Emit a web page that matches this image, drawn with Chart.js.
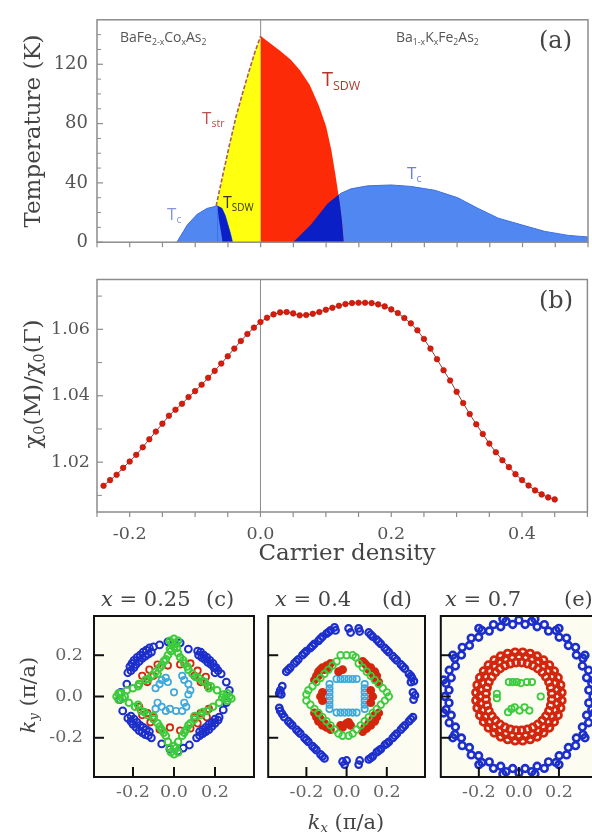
<!DOCTYPE html>
<html><head><meta charset="utf-8">
<script src="https://cdn.jsdelivr.net/npm/chart.js@4.4.1/dist/chart.umd.min.js"></script>
<style>
html,body{margin:0;padding:0;background:#fff;overflow:hidden;}
#wrap{position:relative;width:592px;height:840px;overflow:hidden;}
canvas{position:absolute;}
.t{position:absolute;white-space:nowrap;line-height:1;}
.serif{font-family:'DejaVu Serif',serif;color:#444;}
.sans{font-family:'Open Sans','Liberation Sans',sans-serif;}
sub{font-size:0.62em;vertical-align:-0.3em;line-height:0;}
.rot{transform:translate(-50%,-50%) rotate(-90deg);}
.ctr{transform:translate(-50%,-50%);}
</style></head><body><div id="wrap">
<canvas id="ca" width="592" height="262" style="left:0;top:0;width:592px;height:262px"></canvas>
<canvas id="cb" width="592" height="300" style="left:0;top:262px;width:592px;height:300px"></canvas>
<canvas id="cc" width="262" height="265" style="left:0;top:575px;width:262px;height:265px"></canvas>
<canvas id="cd" width="172" height="265" style="left:262px;top:575px;width:172px;height:265px"></canvas>
<canvas id="ce" width="172" height="265" style="left:434px;top:575px;width:172px;height:265px"></canvas>

<div class="t sans" style="left:120px;top:29.5px;font-size:14px;color:#555">BaFe<sub>2-x</sub>Co<sub>x</sub>As<sub>2</sub></div>
<div class="t sans" style="left:396px;top:29.5px;font-size:14px;color:#555">Ba<sub>1-x</sub>K<sub>x</sub>Fe<sub>2</sub>As<sub>2</sub></div>
<div class="t serif" style="left:539px;top:28px;font-size:24px">(a)</div>
<div class="t serif" style="left:539px;top:288px;font-size:24px">(b)</div>
<div class="t sans" style="left:202px;top:109px;font-size:17px;color:#c0504d">T<sub>str</sub></div>
<div class="t sans" style="left:223px;top:194px;font-size:16px;color:#333">T<sub>SDW</sub></div>
<div class="t sans" style="left:167px;top:205px;font-size:17px;color:#8595d5">T<sub>c</sub></div>
<div class="t sans" style="left:322px;top:68.5px;font-size:20px;color:#b5342a">T<sub>SDW</sub></div>
<div class="t sans" style="left:407px;top:164px;font-size:17px;color:#6f7fd8">T<sub>c</sub></div>

<div class="t serif rot" style="left:32px;top:131px;font-size:23px">Temperature (K)</div>
<div class="t serif rot" style="left:32px;top:384px;font-size:23px">&chi;<sub>0</sub>(M)/&chi;<sub>0</sub>(&Gamma;)</div>
<div class="t serif ctr" style="left:347px;top:552px;font-size:23px">Carrier density</div>

<div class="t serif" style="left:101px;top:589px;font-size:21px"><i>x</i> = 0.25</div>
<div class="t serif" style="left:206px;top:589px;font-size:21px">(c)</div>
<div class="t serif" style="left:275px;top:589px;font-size:21px"><i>x</i> = 0.4</div>
<div class="t serif" style="left:382px;top:589px;font-size:21px">(d)</div>
<div class="t serif" style="left:445px;top:589px;font-size:21px"><i>x</i> = 0.7</div>
<div class="t serif" style="left:564px;top:589px;font-size:21px">(e)</div>
<div class="t serif rot" style="left:28px;top:695px;font-size:21px"><i>k</i><sub><i>y</i></sub> (&pi;/a)</div>
<div class="t serif ctr" style="left:346px;top:822px;font-size:21px"><i>k</i><sub><i>x</i></sub> (&pi;/a)</div>
</div>
<script>
// ---------- Panel (a): phase diagram ----------
const tStrX = [-0.068,-0.058,-0.048,-0.038,-0.028,-0.018,-0.009,0];
const tStrT = [24.5,45,65,84,100,115,128,139];
const sdwKX = [0,0.015,0.03,0.046,0.06,0.075,0.089,0.1,0.108,0.114,0.1195,0.124,0.127];
const sdwKT = [139,134,129,123,116,106,92,78,62,46,30,15,0];
const tcCoX = [-0.128,-0.112,-0.097,-0.082,-0.066,-0.059,-0.054,-0.05,-0.046,-0.043];
const tcCoT = [0,11.7,18.8,22.8,24.5,22.8,17.8,11.7,5.6,0];
const coMixX = [-0.066,-0.059,-0.054,-0.05,-0.046,-0.043];
const coMixT = [24.5,22.8,17.8,11.7,5.6,0];
const coEdgeX = [-0.066,-0.064,-0.061,-0.058];
const coEdgeT = [24.5,16,8,0];
const tcKX = [0.0495,0.0766,0.102,0.1226,0.138,0.1635,0.199,0.23,0.266,0.301,0.332,0.363,0.3985,0.434,0.47,0.5];
const tcKT = [0,11.7,25.9,33,36,38,38.6,37.6,35,30,22.8,16.2,11.7,7.3,4.6,3.5];
const kMixX = [0.0495,0.0766,0.102,0.119,0.1215,0.124,0.127];
const kMixT = [0,11.7,25.9,32,24,15,0];
const tempTicks = [0,40,80,120];
const tempMinor = [10,20,30,50,60,70,90,100,110,130,140];
const carrierTicks = [-0.2,0,0.2,0.4];
const carrierMinor = [-0.25,-0.15,-0.1,-0.05,0.05,0.1,0.15,0.25,0.3,0.35,0.45,0.5];

// ---------- Panel (b): chi0(M)/chi0(Gamma) ----------
const chiX = [-0.24,-0.23,-0.22,-0.21,-0.20,-0.19,-0.18,-0.17,-0.16,-0.15,-0.14,-0.13,-0.12,-0.11,-0.10,-0.09,-0.08,-0.07,-0.06,-0.05,-0.04,-0.03,-0.02,-0.01,0.00,0.01,0.02,0.03,0.04,0.05,0.06,0.07,0.08,0.09,0.10,0.11,0.12,0.13,0.14,0.15,0.16,0.17,0.18,0.19,0.20,0.21,0.22,0.23,0.24,0.25,0.26,0.27,0.28,0.29,0.30,0.31,0.32,0.33,0.34,0.35,0.36,0.37,0.38,0.39,0.40,0.41,0.42,0.43,0.44,0.45];
const chiY = [1.0129,1.0146,1.0162,1.0183,1.0202,1.0222,1.0245,1.0269,1.0292,1.0316,1.0340,1.0358,1.0376,1.0396,1.0414,1.0433,1.0454,1.0475,1.0497,1.0519,1.0542,1.0565,1.0586,1.0605,1.0622,1.0635,1.0645,1.0651,1.0652,1.0648,1.0642,1.0643,1.0647,1.0652,1.0659,1.0665,1.0671,1.0676,1.0679,1.0680,1.0680,1.0679,1.0675,1.0669,1.0660,1.0649,1.0634,1.0618,1.0597,1.0571,1.0542,1.0510,1.0477,1.0446,1.0412,1.0378,1.0345,1.0314,1.0285,1.0256,1.0230,1.0206,1.0185,1.0164,1.0146,1.0130,1.0115,1.0103,1.0094,1.0088];
const chiTicks = [1.02,1.04,1.06];
const chiMinor = [1.01,1.03,1.05,1.07];

// ---------- Panels (c)-(e): Fermi surfaces (kx, ky in pi/a) ----------
const kTicks = [-0.2,0,0.2];
const cBlue = [[-0.12,0.235],[-0.135,0.225],[-0.15,0.215],[-0.165,0.2],[-0.18,0.19],[-0.195,0.175],[-0.205,0.16],[-0.215,0.145],[-0.21,0.125],[-0.225,0.115],[-0.23,0.06],[-0.26,0.02],[-0.265,-0.015],[-0.25,-0.07],[-0.225,-0.105],[-0.21,-0.12],[-0.2,-0.135],[-0.185,-0.15],[-0.17,-0.165],[-0.155,-0.175],[-0.14,-0.185],[-0.125,-0.19],[-0.11,-0.2],[-0.06,-0.23],[-0.02,-0.255],[0.02,-0.265],[0.045,-0.25],[0.075,-0.235],[0.11,-0.2],[0.125,-0.19],[0.14,-0.18],[0.155,-0.17],[0.17,-0.16],[0.185,-0.145],[0.2,-0.13],[0.215,-0.115],[0.22,-0.1],[0.24,-0.065],[0.255,-0.03],[0.27,0.03],[0.255,0.07],[0.23,0.11],[0.215,0.125],[0.205,0.14],[0.19,0.16],[0.175,0.175],[0.16,0.19],[0.145,0.2],[0.13,0.215],[0.115,0.22],[0.07,0.23],[0.03,0.26],[-0.03,0.265],[-0.07,0.25],[-0.1,0.24],
[-0.11,0.215],[-0.125,0.205],[-0.14,0.195],[-0.155,0.185],[-0.17,0.17],[-0.185,0.155],[-0.195,0.14],[0.12,0.2],[0.135,0.19],[0.15,0.18],[0.165,0.165],[0.18,0.155],[0.195,0.14],[0.2,0.115],[0.125,-0.17],[0.14,-0.16],[0.155,-0.15],[0.17,-0.135],[0.185,-0.125],[0.2,-0.11],[-0.12,-0.17],[-0.135,-0.16],[-0.15,-0.15],[-0.165,-0.14],[-0.18,-0.125],[-0.195,-0.11],[-0.21,-0.095]];
const cRed = [[-0.12,0.13],[-0.08,0.155],[-0.03,0.15],[0.03,0.155],[0.08,0.16],[0.115,0.125],[0.155,0.095],[0.165,0.05],[0.17,-0.06],[0.16,-0.1],[0.115,-0.13],[0.08,-0.155],[0.03,-0.165],[-0.02,-0.15],[-0.07,-0.16],[-0.115,-0.125],[-0.155,-0.09],[-0.17,-0.05],[-0.17,0.06],[-0.155,0.1],[-0.1,0.1],[-0.13,0.07],[0.1,0.1],[0.13,0.07],[0.1,-0.1],[0.13,-0.08],[-0.1,-0.1],[-0.13,-0.08]];
const cGreen = [[0,0.28],[-0.01,0.26],[0.01,0.255],[0,0.24],[-0.015,0.22],[0.02,0.21],[0.03,0.19],[0.05,0.16],[0.07,0.13],[0.09,0.11],[0.12,0.09],[0.15,0.07],[0.18,0.05],[0.21,0.03],[0.24,0.01],[0.27,0],[0.28,-0.01],[0.25,-0.01],[0.22,-0.03],[0.19,-0.05],[0.16,-0.07],[0.13,-0.09],[0.1,-0.11],[0.08,-0.13],[0.06,-0.16],[0.04,-0.19],[0.02,-0.22],[0.01,-0.25],[0,-0.28],[-0.02,-0.25],[-0.03,-0.22],[-0.04,-0.19],[-0.06,-0.16],[-0.08,-0.13],[-0.1,-0.11],[-0.13,-0.09],[-0.16,-0.07],[-0.19,-0.05],[-0.22,-0.03],[-0.25,-0.01],[-0.28,0],[-0.26,0.015],[-0.23,0.03],[-0.2,0.04],[-0.17,0.06],[-0.14,0.08],[-0.11,0.1],[-0.09,0.12],[-0.07,0.14],[-0.05,0.17],[-0.03,0.2],[-0.02,0.23],
[0.02,0.27],[-0.02,0.27],[0.015,0.235],[0.26,0.015],[0.26,-0.02],[0.235,-0.005],[0.02,-0.27],[-0.015,-0.27],[0.0,-0.24],[-0.27,0.015],[-0.27,-0.015],[-0.24,0.0],[0.045,0.175],[0.065,0.145],[0.105,0.095],[0.14,0.075],[0.17,0.04],[0.14,-0.075],[0.1,-0.095],[0.07,-0.14],[0.05,-0.175],[-0.05,-0.175],[-0.07,-0.145],[-0.1,-0.095],[-0.145,-0.075],[-0.175,-0.04],[-0.175,0.05],[-0.125,0.085],[-0.08,0.11],[-0.06,0.15],[-0.04,0.18]];
const cCyan = [[-0.09,0.04],[-0.07,0.06],[-0.06,0.08],[-0.04,0.09],[-0.03,0.07],[0.04,0.1],[0.05,0.08],[0.07,0.06],[0.08,0.03],[0.07,0.01],[0.05,-0.03],[0.06,-0.05],[0.04,-0.07],[0.01,-0.07],[-0.02,-0.06],[-0.04,-0.07],[-0.06,-0.05],[-0.08,-0.03],[-0.09,-0.06],[0.0,0.02]];

const dBlue = [[-0.30,0.12],[-0.28,0.14],[-0.26,0.16],[-0.24,0.18],[-0.22,0.2],[-0.2,0.22],[-0.18,0.235],[-0.16,0.255],[-0.14,0.27],[-0.12,0.29],[-0.10,0.305],[-0.08,0.32],[-0.06,0.335],[-0.055,0.32],[0.01,0.33],[0.02,0.31],[0.06,0.33],[0.065,0.315],[0.11,0.31],[0.13,0.29],[0.15,0.275],[0.17,0.255],[0.19,0.235],[0.21,0.215],[0.23,0.195],[0.25,0.175],[0.27,0.155],[0.29,0.135],[0.31,0.11],[0.325,0.09],[0.335,0.075],[0.32,0.07],[0.33,0.02],[0.34,0.005],[0.333,-0.015],[0.33,-0.1],[0.31,-0.12],[0.29,-0.14],[0.27,-0.16],[0.25,-0.18],[0.23,-0.2],[0.21,-0.22],[0.19,-0.235],[0.17,-0.255],[0.15,-0.27],[0.13,-0.29],[0.11,-0.305],[0.06,-0.33],[0.065,-0.31],[0.0,-0.31],[-0.01,-0.33],[-0.02,-0.315],[-0.11,-0.3],[-0.13,-0.28],[-0.15,-0.26],[-0.17,-0.24],[-0.19,-0.22],[-0.21,-0.2],[-0.23,-0.18],[-0.25,-0.16],[-0.27,-0.14],[-0.29,-0.12],[-0.31,-0.1],[-0.33,-0.07],[-0.335,-0.055],[-0.33,0.03],[-0.325,0.01],[-0.32,0.05],[-0.335,0.015],
[-0.29,0.13],[-0.25,0.17],[-0.21,0.21],[-0.17,0.245],[-0.13,0.28],[-0.09,0.312],[0.12,0.3],[0.16,0.265],[0.2,0.225],[0.24,0.185],[0.28,0.145],[0.32,0.1],[0.32,-0.11],[0.28,-0.15],[0.24,-0.19],[0.2,-0.228],[0.16,-0.262],[0.12,-0.298],[-0.12,-0.29],[-0.16,-0.25],[-0.2,-0.21],[-0.24,-0.17],[-0.28,-0.13],[-0.32,-0.085]];
const dRed = [[-0.16,0.08],[-0.15,0.1],[-0.14,0.12],[-0.12,0.14],[-0.1,0.15],[-0.08,0.16],[-0.04,0.12],[-0.02,0.13],[0.08,0.17],[0.1,0.15],[0.12,0.14],[0.14,0.12],[0.15,0.1],[0.16,0.07],[0.12,0.03],[0.13,0.0],[0.12,-0.03],[0.16,-0.08],[0.15,-0.1],[0.14,-0.12],[0.12,-0.14],[0.1,-0.155],[0.08,-0.17],[0.0,-0.13],[0.02,-0.14],[-0.02,-0.15],[-0.08,-0.16],[-0.1,-0.15],[-0.12,-0.14],[-0.14,-0.12],[-0.15,-0.1],[-0.16,-0.08],[-0.12,0.02],[-0.13,0],[-0.12,-0.02],
[-0.13,0.13],[-0.11,0.13],[-0.14,0.1],[-0.09,0.14],[0.11,0.13],[0.13,0.11],[0.09,0.16],[0.14,0.09],[0.11,-0.13],[0.13,-0.11],[0.14,-0.09],[0.09,-0.15],[-0.11,-0.13],[-0.13,-0.11],[-0.09,-0.15],[-0.14,-0.09],[-0.03,-0.14],[0.01,-0.125]];
const dGreen = [[-0.03,0.2],[0,0.2],[0.03,0.2],[0.045,0.19],[-0.05,0.17],[-0.07,0.15],[-0.09,0.13],[-0.11,0.11],[-0.13,0.09],[-0.15,0.07],[-0.17,0.05],[-0.19,0.03],[-0.2,0.01],[-0.2,-0.02],[-0.18,-0.04],[-0.16,-0.06],[-0.14,-0.08],[-0.12,-0.1],[-0.1,-0.12],[-0.08,-0.14],[-0.06,-0.16],[-0.04,-0.18],[-0.02,-0.19],[0.01,-0.19],[0.03,-0.18],[0.05,-0.16],[0.07,-0.14],[0.09,-0.12],[0.11,-0.1],[0.13,-0.08],[0.15,-0.06],[0.17,-0.04],[0.19,-0.02],[0.21,0],[0.2,0.02],[0.18,0.04],[0.16,0.06],[0.14,0.08],[0.12,0.1],[0.1,0.12],[0.08,0.14],[0.06,0.16]];
const dCyan = [[-0.05,0.085],[-0.03,0.085],[-0.01,0.085],[0.01,0.085],[0.03,0.085],[0.05,0.085],[-0.05,-0.078],[-0.03,-0.078],[-0.01,-0.078],[0.01,-0.078],[0.03,-0.078],[0.05,-0.078],[-0.085,0.06],[-0.085,0.04],[-0.085,0.02],[-0.085,0],[-0.085,-0.02],[-0.085,-0.04],[-0.085,-0.06],[0.09,0.06],[0.09,0.04],[0.09,0.02],[0.09,0],[0.09,-0.02],[0.09,-0.04],[0.09,-0.06]];

const eBlue = [[0.37,0],[0.364,0.064],[0.348,0.127],[0.32,0.185],[0.283,0.238],[0.238,0.283],[0.185,0.32],[0.127,0.348],[0.064,0.364],[0,0.37],[0.349,0.031],[0.338,0.091],[0.317,0.148],[0.287,0.201],[0.247,0.247],[0.201,0.287],[0.148,0.317],[0.091,0.338],[0.031,0.349],
[-0.064,0.364],[-0.127,0.348],[-0.185,0.32],[-0.238,0.283],[-0.283,0.238],[-0.32,0.185],[-0.348,0.127],[-0.364,0.064],[-0.37,0],[-0.031,0.349],[-0.091,0.338],[-0.148,0.317],[-0.201,0.287],[-0.247,0.247],[-0.287,0.201],[-0.317,0.148],[-0.338,0.091],[-0.349,0.031],
[-0.364,-0.064],[-0.348,-0.127],[-0.32,-0.185],[-0.283,-0.238],[-0.238,-0.283],[-0.185,-0.32],[-0.127,-0.348],[-0.064,-0.364],[0,-0.37],[-0.349,-0.031],[-0.338,-0.091],[-0.317,-0.148],[-0.287,-0.201],[-0.247,-0.247],[-0.201,-0.287],[-0.148,-0.317],[-0.091,-0.338],[-0.031,-0.349],
[0.064,-0.364],[0.127,-0.348],[0.185,-0.32],[0.238,-0.283],[0.283,-0.238],[0.32,-0.185],[0.348,-0.127],[0.364,-0.064],[0.031,-0.349],[0.091,-0.338],[0.148,-0.317],[0.201,-0.287],[0.247,-0.247],[0.287,-0.201],[0.317,-0.148],[0.338,-0.091],[0.349,-0.031],
[0.376,0.08],[0.33,0.2],[0.2,0.33],[0.08,0.376],[-0.08,0.376],[-0.2,0.33],[-0.33,0.2],[-0.376,0.08],[-0.376,-0.08],[-0.33,-0.2],[-0.2,-0.33],[-0.08,-0.376],[0.08,-0.376],[0.2,-0.33],[0.33,-0.2],[0.376,-0.08]];
const eRed = [[0.195,0],[0.192,0.034],[0.183,0.067],[0.169,0.098],[0.149,0.125],[0.125,0.149],[0.098,0.169],[0.067,0.183],[0.034,0.192],[0,0.195],[0.164,0.014],[0.159,0.043],[0.15,0.07],[0.135,0.095],[0.117,0.117],[0.095,0.135],[0.07,0.15],[0.043,0.159],[0.014,0.164],
[-0.034,0.192],[-0.067,0.183],[-0.098,0.169],[-0.125,0.149],[-0.149,0.125],[-0.169,0.098],[-0.183,0.067],[-0.192,0.034],[-0.195,0],[-0.014,0.164],[-0.043,0.159],[-0.07,0.15],[-0.095,0.135],[-0.117,0.117],[-0.135,0.095],[-0.15,0.07],[-0.159,0.043],[-0.164,0.014],
[-0.192,-0.034],[-0.183,-0.067],[-0.169,-0.098],[-0.149,-0.125],[-0.125,-0.149],[-0.098,-0.169],[-0.067,-0.183],[-0.034,-0.192],[0,-0.195],[-0.164,-0.014],[-0.159,-0.043],[-0.15,-0.07],[-0.135,-0.095],[-0.117,-0.117],[-0.095,-0.135],[-0.07,-0.15],[-0.043,-0.159],[-0.014,-0.164],
[0.034,-0.192],[0.067,-0.183],[0.098,-0.169],[0.125,-0.149],[0.149,-0.125],[0.169,-0.098],[0.183,-0.067],[0.192,-0.034],[0.014,-0.164],[0.043,-0.159],[0.07,-0.15],[0.095,-0.135],[0.117,-0.117],[0.135,-0.095],[0.15,-0.07],[0.159,-0.043],[0.164,-0.014],
[0.214,0.019],[0.208,0.056],[0.195,0.091],[0.176,0.123],[0.152,0.152],[0.123,0.176],[0.091,0.195],[0.056,0.208],[0.019,0.214],[-0.019,0.214],[-0.056,0.208],[-0.091,0.195],[-0.123,0.176],[-0.152,0.152],[-0.176,0.123],[-0.195,0.091],[-0.208,0.056],[-0.214,0.019],
[-0.214,-0.019],[-0.208,-0.056],[-0.195,-0.091],[-0.176,-0.123],[-0.152,-0.152],[-0.123,-0.176],[-0.091,-0.195],[-0.056,-0.208],[-0.019,-0.214],[0.019,-0.214],[0.056,-0.208],[0.091,-0.195],[0.123,-0.176],[0.152,-0.152],[0.176,-0.123],[0.195,-0.091],[0.208,-0.056],[0.214,-0.019]];
const eGreen = [[-0.05,0.07],[-0.03,0.07],[-0.01,0.07],[0.01,0.065],[0.04,0.07],[0.065,0.07],[-0.11,0.013],[-0.11,-0.008],[0.109,0],[-0.054,-0.076],[-0.037,-0.06],[-0.021,-0.052],[0.003,-0.068],[0.028,-0.052],[0.052,-0.068]];

// ---------- helpers ----------
const xy = (xs, ys) => xs.map((x, i) => ({x: x, y: ys[i]}));
const pts = arr => arr.map(p => ({x: p[0], y: p[1]}));

function makeFrame(cfg) {
  return {
    id: 'frame',
    beforeDatasetsDraw(chart) {
      const {ctx, chartArea: a, scales} = chart;
      ctx.save();
      if (cfg.bg) { ctx.fillStyle = cfg.bg; ctx.fillRect(a.left, a.top, a.right - a.left, a.bottom - a.top); }
      if (cfg.zeroX) {
        const p = scales.x.getPixelForValue(0);
        ctx.strokeStyle = '#8a8a8a'; ctx.lineWidth = 1;
        ctx.beginPath(); ctx.moveTo(p, a.top); ctx.lineTo(p, a.bottom); ctx.stroke();
      }
      ctx.restore();
    },
    afterDatasetsDraw(chart) {
      const {ctx, chartArea: a, scales} = chart;
      ctx.save();
      ctx.strokeStyle = cfg.color;
      for (const t of cfg.ticks) {
        const sc = scales[t.axis];
        ctx.lineWidth = t.width;
        for (const v of t.values) {
          const p = sc.getPixelForValue(v);
          ctx.beginPath();
          if (t.axis === 'x') {
            ctx.moveTo(p, a.bottom);
            ctx.lineTo(p, t.dir === 'in' ? a.bottom - t.len : a.bottom + t.len);
          } else {
            ctx.moveTo(a.left, p);
            ctx.lineTo(t.dir === 'in' ? a.left + t.len : a.left - t.len, p);
          }
          ctx.stroke();
        }
      }
      ctx.lineWidth = cfg.width;
      ctx.strokeRect(a.left, a.top, a.right - a.left, a.bottom - a.top);
      ctx.restore();
    }
  };
}

function scaleCfg(c) {
  return {
    type: 'linear', min: c.min, max: c.max,
    grid: {display: false, drawTicks: false}, border: {display: false},
    ticks: {display: c.show, padding: c.pad, autoSkip: false, maxRotation: 0, minRotation: 0,
      color: c.color || '#555', font: {family: 'DejaVu Serif', size: c.size || 17.5},
      callback: (v) => c.fmt(v)},
    afterBuildTicks: s => { s.ticks = c.ticks.map(v => ({value: v})); },
    afterFit: s => { if (c.isX) s.height = c.fit; else s.width = c.fit; }
  };
}

function makeChart(id, datasets, o) {
  return new Chart(document.getElementById(id), {
    type: 'scatter',
    data: {datasets: datasets},
    options: {
      responsive: false, animation: false, events: [],
      layout: {padding: o.padding},
      plugins: {legend: {display: false}, tooltip: {enabled: false}},
      scales: {x: scaleCfg(o.x), y: scaleCfg(o.y)}
    },
    plugins: [makeFrame(o.frame)]
  });
}

const area = (xs, ys, bg, order, extra) => Object.assign({
  data: xy(xs, ys), showLine: true, pointRadius: 0, tension: 0,
  fill: 'origin', backgroundColor: bg, borderWidth: 0, borderColor: bg, order: order
}, extra || {});

// ---------- (a) ----------
makeChart('ca', [
  area(tStrX, tStrT, '#ffff10', 8, {borderColor: '#a85a5a', borderWidth: 1.6, borderDash: [4, 2]}),
  area(tcKX, tcKT, '#5087f0', 7, {borderColor: '#3f6fe0', borderWidth: 1}),
  area(sdwKX, sdwKT, '#fc2a06', 6),
  area(tcCoX, tcCoT, '#5087f0', 5, {borderColor: '#3f6fe0', borderWidth: 1}),
  area(coMixX, coMixT, '#0b1fc6', 4),
  area(coEdgeX, coEdgeT, '#5087f0', 3),
  area(kMixX, kMixT, '#0b1fc6', 2)
], {
  padding: {top: 2.5, right: 4, bottom: 0, left: 0},
  x: {min: -0.25, max: 0.5, ticks: carrierTicks, fmt: v => v.toFixed(1), show: false, pad: 0, isX: true, fit: 12.5},
  y: {min: 0, max: 150, ticks: tempTicks, fmt: v => String(v), show: true, pad: 9, fit: 97, size: 18},
  frame: {color: '#8c8c8c', width: 1.5, zeroX: true, ticks: [
    {axis: 'x', values: carrierTicks.concat(carrierMinor), len: 5, dir: 'out', width: 1.2},
    {axis: 'y', values: tempTicks, len: 6, dir: 'in', width: 1.2},
    {axis: 'y', values: tempMinor, len: 4, dir: 'in', width: 1}
  ]}
});

// ---------- (b) ----------
makeChart('cb', [{
  data: xy(chiX, chiY), showLine: true, borderColor: '#8e3a3a', borderWidth: 1,
  pointRadius: 2.8, pointBackgroundColor: '#d81c0c', pointBorderColor: '#b01408', pointBorderWidth: 0.6
}], {
  padding: {top: 5.5, right: 4, bottom: 0, left: 0},
  x: {min: -0.25, max: 0.5, ticks: carrierTicks, fmt: v => v.toFixed(1), show: true, pad: 12, isX: true, fit: 50},
  y: {min: 1.005, max: 1.075, ticks: chiTicks, fmt: v => v.toFixed(2), show: true, pad: 7, fit: 97},
  frame: {color: '#8c8c8c', width: 1.5, zeroX: true, ticks: [
    {axis: 'x', values: carrierTicks.concat(carrierMinor), len: 5, dir: 'out', width: 1.2},
    {axis: 'y', values: chiTicks, len: 6, dir: 'in', width: 1.2},
    {axis: 'y', values: chiMinor, len: 5, dir: 'in', width: 1}
  ]}
});

// ---------- (c)-(e) ----------
const ring = (arr, col, bw, r, order, fillCol) => ({
  data: pts(arr), showLine: false, pointRadius: r || 3, pointBorderWidth: bw || 1.6,
  pointBackgroundColor: fillCol || 'rgba(0,0,0,0)', pointBorderColor: col, order: order || 0
});
const BLUE = '#1c2fcc', RED = '#d4260e', GREEN = '#3ccb3c', CYAN = '#3ea8dc';
const kFrame = {color: '#111', width: 2, bg: '#fdfcf0', ticks: [
  {axis: 'x', values: kTicks, len: 10, dir: 'in', width: 2},
  {axis: 'y', values: kTicks, len: 10, dir: 'in', width: 2}
]};
const kAxis = (show, fit, isX) => ({min: -0.39, max: 0.39, ticks: kTicks, fmt: v => v.toFixed(1),
  show: show, pad: isX ? 5 : 11, fit: fit, isX: isX, color: '#666'});

makeChart('cc', [ring(cCyan, CYAN, 1.7, 3.2, 4), ring(cRed, RED, 1.8, 3.2, 3), ring(cBlue, BLUE, 2, 3.4, 2), ring(cGreen, GREEN, 2, 3.3, 1)], {
  padding: {top: 41, right: 8, bottom: 0, left: 0},
  x: kAxis(true, 63, true), y: kAxis(true, 94, false), frame: kFrame
});
makeChart('cd', [ring(dCyan, CYAN, 1.7, 3.2, 4), ring(dRed, RED, 2, 3.4, 3, RED), ring(dBlue, BLUE, 2.2, 3.3, 2), ring(dGreen, GREEN, 1.8, 3.3, 1)], {
  padding: {top: 41, right: 9, bottom: 0, left: 0},
  x: kAxis(true, 63, true), y: kAxis(false, 3, false), frame: kFrame
});
makeChart('ce', [ring(eRed, RED, 2.8, 3.5, 3), ring(eBlue, BLUE, 2.6, 3.4, 2), ring(eGreen, GREEN, 1.8, 3.2, 1)], {
  padding: {top: 41, right: 9, bottom: 0, left: 0},
  x: kAxis(true, 63, true), y: kAxis(false, 3, false), frame: kFrame
});
</script>
</body></html>
